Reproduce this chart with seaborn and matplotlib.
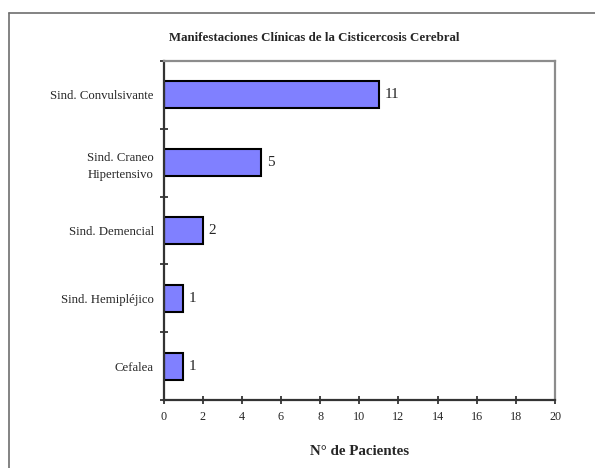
import matplotlib
matplotlib.use("Agg")
import matplotlib.pyplot as plt
from matplotlib.lines import Line2D
import seaborn as sns
import pandas as pd

categories = [
    "Sind. Convulsivante",
    "Sind. Craneo\nHipertensivo",
    "Sind. Demencial",
    "Sind. Hemipléjico",
    "Cefalea",
]
patients = [11, 5, 2, 1, 1]
x_ticks = [0, 2, 4, 6, 8, 10, 12, 14, 16, 18, 20]

title = "Manifestaciones Clínicas de la Cisticercosis Cerebral"
x_label = "N° de Pacientes"

df = pd.DataFrame({"cat": categories, "n": patients})

sns.set_theme(style="white")
plt.rcParams["font.family"] = ["Liberation Serif", "DejaVu Serif"]

W, H = 595, 468
fig = plt.figure(figsize=(W / 100, H / 100), dpi=100)
ax = fig.add_axes([163.5 / W, (H - 400) / H, (555 - 163.5) / W, (400 - 61) / H])

sns.barplot(data=df, x="n", y="cat", orient="h", color="#8080FF",
            saturation=1, edgecolor="black", linewidth=1.5, width=0.4, ax=ax)

ax.set_xlim(0, 20)
ax.set_ylim(len(categories) - 0.5, -0.5)
ax.set_xticks(x_ticks)
ax.set_xticklabels([str(t) for t in x_ticks], fontsize=8.7)

# category labels at bar centres, tick marks on the boundaries
ax.set_yticks([i - 0.5 for i in range(len(categories) + 1)])
ax.set_yticklabels([])
ax.set_yticks(range(len(categories)), minor=True)
ax.set_yticklabels(categories, minor=True, fontsize=9.2,
                   multialignment="center", linespacing=1.5)
ax.tick_params(axis="y", which="minor", left=True, length=0, pad=7)
ax.tick_params(axis="y", which="major", left=True, direction="inout",
               length=5.5, width=1.2, color="#222222")
ax.tick_params(axis="x", bottom=True, direction="inout", length=5.5, width=1.2,
               color="#222222", pad=5)
ax.set_ylabel("")

ax.set_xlabel(x_label, fontsize=10.8, fontweight="bold", labelpad=16)

for side in ["left", "bottom"]:
    ax.spines[side].set_color("#333333")
    ax.spines[side].set_linewidth(1.6)
for side in ["top", "right"]:
    ax.spines[side].set_visible(True)
    ax.spines[side].set_color("#8c8c8c")
    ax.spines[side].set_linewidth(1.6)

for cont in ax.containers:
    ax.bar_label(cont, labels=[str(v) for v in patients], padding=4, fontsize=11)

fig.text(314 / W, 1 - 38 / H, title, ha="center", va="center",
         fontsize=9.3, fontweight="bold")

# chart frame
fig.add_artist(Line2D([9 / W, 9 / W], [0, 1 - 13 / H], transform=fig.transFigure,
                      color="#6e6e6e", linewidth=1.2))
fig.add_artist(Line2D([9 / W, 1], [1 - 13 / H, 1 - 13 / H], transform=fig.transFigure,
                      color="#6e6e6e", linewidth=1.2))

fig.savefig("out.png", dpi=100)
